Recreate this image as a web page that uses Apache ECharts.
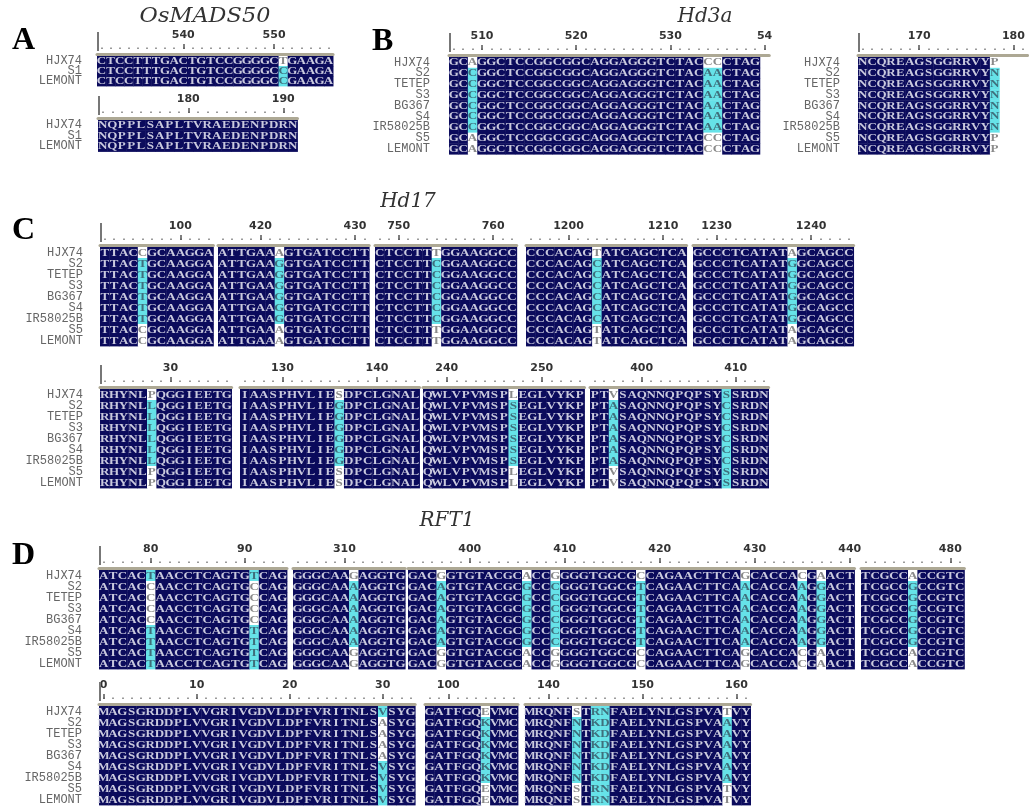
<!DOCTYPE html>
<html><head><meta charset="utf-8">
<script src="https://cdn.jsdelivr.net/npm/echarts@6/dist/echarts.min.js"></script>
<style>html,body{margin:0;padding:0;background:#fff}#c{width:1029px;height:810px}</style>
</head><body><div id="c"></div>
<script>
// ---------------- DATA ----------------
const rowsA = ['HJX74', 'S1', 'LEMONT'];
const rowsB = ['HJX74', 'S2', 'TETEP', 'S3', 'BG367', 'S4', 'IR58025B', 'S5', 'LEMONT'];

// first alignment position of each block (ruler numbering)
const startPos = {
  A1: 531, A2: 171, B1: 507, B2: 164,
  C1a: 92, C1b: 416, C1c: 748, C1d: 1196, C1e: 1228,
  C2a: 23, C2b: 126, C2c: 238, C2d: 395,
  D1a: 75, D1b: 305, D1c: 394, D1d: 471,
  D2a: 0, D2b: 98, D2c: 138
};
// ruler continues past the sequence in some windows
const rulerEnd = { B1: 540, B2: 181 };
const rulerText = { B1: { '540': '54' } };

// sequence of the first row (HJX74) of each block
const seqs = {
  A1: 'CTCCTTTGACTGTCCGGGGCTGAAGA',
  A2: 'NQPPLSAPLTVRAEDENPDRN',
  B1: 'GCAGGCTCCGGCGGCAGGAGGGTCTACCCCTAG',
  B2: 'NCQREAGSGGRRVYP',
  C1a: 'TTACCGCAAGGA',
  C1b: 'ATTGAAAGTGATCCTT',
  C1c: 'CTCCTTTGGAAGGCC',
  C1d: 'CCCACAGTATCAGCTCA',
  C1e: 'GCCCTCATATAGCAGCC',
  C2a: 'RHYNLPQGGIEETG',
  C2b: 'IAASPHVLIESDPCLGNAL',
  C2c: 'QWLVPVMSPLEGLVYKP',
  C2d: 'PTVSAQNNQPQPSYSSRDN',
  D1a: 'ATCACTAACCTCAGTGTCAG',
  D1b: 'GGGCAAGAGGTG',
  D1c: 'GACGGTGTACGCACCGGGGTGGCGCCAGAACTTCAGCACCACGAACT',
  D1d: 'TCGCCACCGTC',
  D2a: 'MAGSGRDDPLVVGRIVGDVLDPFVRITNLSVSYG',
  D2b: 'GATFGQEVMC',
  D2c: 'MRQNFSTRNFAELYNLGSPVATVY'
};

// variable columns: [column, letter per row, shade per row]  (0 = dark, 1 = cyan, 2 = white)
const vars = {
  A1: [[20, 'TCC', '211']],
  A2: [],
  B1: [[2, 'ACCCCCCAA', '211111122'], [27, 'CAAAAAACC', '211111122'], [28, 'CAAAAAACC', '211111122']],
  B2: [[14, 'PNNNNNNPP', '211111122']],
  C1a: [[4, 'CTTTTTTCC', '211111122']],
  C1b: [[6, 'AGGGGGGAA', '211111122']],
  C1c: [[6, 'TCCCCCCTT', '211111122']],
  C1d: [[7, 'TCCCCCCTT', '211111122']],
  C1e: [[10, 'AGGGGGGAA', '211111122']],
  C2a: [[5, 'PLLLLLLPP', '211111122']],
  C2b: [[10, 'SGGGGGGSS', '211111122']],
  C2c: [[9, 'LSSSSSSLL', '211111122']],
  C2d: [[2, 'VAAAAAAVV', '211111122'], [14, 'SCCCCCCSS', '111111111']],
  D1a: [[5, 'TCCCCTTTT', '122221111'], [16, 'TCCCCTTTT', '122221111']],
  D1b: [[6, 'GAAAAAAGG', '211111122']],
  D1c: [[3, 'GAAAAAAGG', '211111122'], [12, 'AGGGGGGAA', '211111122'], [15, 'GCCCCCCGG', '211111122'],
        [24, 'CTTTTTTCC', '211111122'], [35, 'GAAAAAAGG', '211111122'], [41, 'CAAAAAACC', '211111122'],
        [43, 'AGGGGGGAA', '211111122']],
  D1d: [[5, 'AGGGGGGAA', '211111122']],
  D2a: [[30, 'VAAAAVVVV', '122221111']],
  D2b: [[6, 'EKKKKKKEE', '211111122']],
  D2c: [[5, 'SNNNNNNSS', '211111122'], [7, 'RKKKKKKRR', '111111111'], [8, 'NDDDDDDNN', '111111111'],
        [21, 'TAAAAAATT', '211111122']]
};

const titles = ['OsMADS50', 'Hd3a', 'Hd17', 'RFT1'];
const panelLetters = ['A', 'B', 'C', 'D'];

// ---------------- LAYOUT / STYLE ----------------
const layout = {
  A1: { left: 97, top: 56, cw: 9.08, rh: 10, lab: 15 },
  A2: { left: 98, top: 120, cw: 9.5, rh: 10.5, lab: 16 },
  B1: { left: 449, top: 57, cw: 9.42, rh: 10.8, lab: 19 },
  B2: { left: 858, top: 57, cw: 9.42, rh: 10.8, lab: 18 },
  C1a: { left: 100, top: 247, cw: 9.45, rh: 11, lab: 17 },
  C1b: { left: 218, top: 247, cw: 9.45, rh: 11 },
  C1c: { left: 375, top: 247, cw: 9.45, rh: 11 },
  C1d: { left: 526, top: 247, cw: 9.45, rh: 11 },
  C1e: { left: 693, top: 247, cw: 9.45, rh: 11 },
  C2a: { left: 100, top: 389, cw: 9.4, rh: 11, lab: 17 },
  C2b: { left: 240, top: 389, cw: 9.45, rh: 11 },
  C2c: { left: 423, top: 389, cw: 9.5, rh: 11 },
  C2d: { left: 590, top: 389, cw: 9.4, rh: 11 },
  D1a: { left: 99, top: 570, cw: 9.4, rh: 11, lab: 17 },
  D1b: { left: 293, top: 570, cw: 9.35, rh: 11 },
  D1c: { left: 408, top: 570, cw: 9.5, rh: 11 },
  D1d: { left: 861, top: 570, cw: 9.4, rh: 11 },
  D2a: { left: 99, top: 706, cw: 9.3, rh: 11, lab: 17 },
  D2b: { left: 425, top: 706, cw: 9.3, rh: 11 },
  D2c: { left: 525, top: 706, cw: 9.4, rh: 11 }
};
const titlePos = [[205, 17], [705, 17], [408, 202], [447, 521]];
const letterPos = [[12, 25], [372, 26], [12, 215], [12, 540]];

const FILL = ['#0b0b5c', '#66e2e8', '#ffffff'];
const INK = ['#c9c9de', '#3f6f7c', '#8a8a8a'];
const CELL_FONT = 'bold 10px "Liberation Serif"';

// ---------------- BUILD ----------------
const ids = Object.keys(seqs);
const grids = [], xAxes = [], yAxes = [], series = [];
const isTen = (i, v) => Number(v) % 10 === 0;

ids.forEach((id, gi) => {
  const L = layout[id];
  const rows = id[0] === 'A' ? rowsA : rowsB;
  const seq = seqs[id];
  const start = startPos[id];
  const end = Math.max(start + seq.length - 1, rulerEnd[id] || 0);
  const cats = [];
  for (let p = start; p <= end; p++) cats.push(String(p));

  const vmap = {};
  (vars[id] || []).forEach(v => { vmap[v[0]] = v; });
  const cells = [];
  rows.forEach((r, ri) => {
    for (let i = 0; i < seq.length; i++) {
      let ch = seq[i], k = 0;
      if (vmap[i]) { ch = vmap[i][1][ri]; k = Number(vmap[i][2][ri]); }
      cells.push([i, ri, k, ch]);
    }
  });

  grids.push({ left: L.left, top: L.top, width: cats.length * L.cw, height: rows.length * L.rh, containLabel: false });
  const base = xAxes.length;
  const over = rulerText[id] || {};
  xAxes.push({ gridIndex: gi, type: 'category', data: cats, position: 'top', offset: 2,
    axisLine: { show: true, lineStyle: { color: '#ada894', width: 3 } },
    axisTick: { show: false }, axisLabel: { show: false }, splitLine: { show: false } });
  xAxes.push({ gridIndex: gi, type: 'category', data: cats, position: 'top', offset: 7,
    axisLine: { show: false },
    axisTick: { show: true, interval: 0, alignWithLabel: true, length: 1.5, lineStyle: { color: '#7a7a7a', width: 1.5 } },
    axisLabel: { show: false }, splitLine: { show: false } });
  xAxes.push({ gridIndex: gi, type: 'category', data: cats, position: 'top', offset: 7,
    axisLine: { show: false },
    axisTick: { show: true, interval: isTen, alignWithLabel: true, length: 5, lineStyle: { color: '#555', width: 1.5 } },
    axisLabel: { show: true, interval: isTen, margin: 8, color: '#333', fontSize: 11, fontWeight: 'bold',
      fontFamily: 'DejaVu Sans', formatter: v => (over[v] !== undefined ? over[v] : v) },
    splitLine: { show: false } });
  yAxes.push({ gridIndex: gi, type: 'category', data: rows, inverse: true,
    axisLine: { show: false }, axisTick: { show: false }, splitLine: { show: false },
    axisLabel: { show: L.lab !== undefined, interval: 0, margin: L.lab || 8, color: '#666', fontSize: 12,
      fontFamily: 'Liberation Mono' } });

  const withBar = L.lab !== undefined;
  series.push({
    type: 'custom', xAxisIndex: base, yAxisIndex: gi, silent: true, animation: false, clip: false,
    encode: { x: 0, y: 1 },
    data: cells.map(c => [c[0], c[1], c[2]]),
    renderItem: function (params, api) {
      const d = cells[params.dataIndex];
      const c = api.coord([d[0], d[1]]);
      const s = api.size([1, 1]);
      const children = [
        { type: 'rect', shape: { x: c[0] - s[0] / 2, y: c[1] - s[1] / 2, width: s[0] + 0.4, height: s[1] + 0.4 },
          style: { fill: FILL[d[2]] } },
        { type: 'text', x: c[0], y: c[1] + 0.5, scaleX: 1.3,
          style: { text: d[3], fill: INK[d[2]], font: CELL_FONT, align: 'center', verticalAlign: 'middle' } }
      ];
      if (withBar && d[0] === 0 && d[1] === 0) {
        const x0 = c[0] - s[0] / 2 + 1, y0 = c[1] - s[1] / 2;
        children.push({ type: 'line', shape: { x1: x0, y1: y0 - 5, x2: x0, y2: y0 - 24 },
          style: { stroke: '#777', lineWidth: 2 } });
      }
      return { type: 'group', children };
    }
  });
});

const graphics = [];
titles.forEach((t, i) => graphics.push({ type: 'text', x: titlePos[i][0], y: titlePos[i][1],
  scaleX: i === 0 ? 1.12 : 1,
  style: { text: t, fill: '#333', font: 'italic 20px "DejaVu Serif"', align: 'center', verticalAlign: 'middle' } }));
panelLetters.forEach((t, i) => graphics.push({ type: 'text', x: letterPos[i][0], y: letterPos[i][1],
  style: { text: t, fill: '#000', font: 'bold 32px "Liberation Serif"', align: 'left', verticalAlign: 'top' } }));

const chart = echarts.init(document.getElementById('c'), null, { renderer: 'canvas' });
chart.setOption({
  animation: false,
  backgroundColor: '#fff',
  grid: grids, xAxis: xAxes, yAxis: yAxes, series: series,
  graphic: graphics
});
</script></body></html>
